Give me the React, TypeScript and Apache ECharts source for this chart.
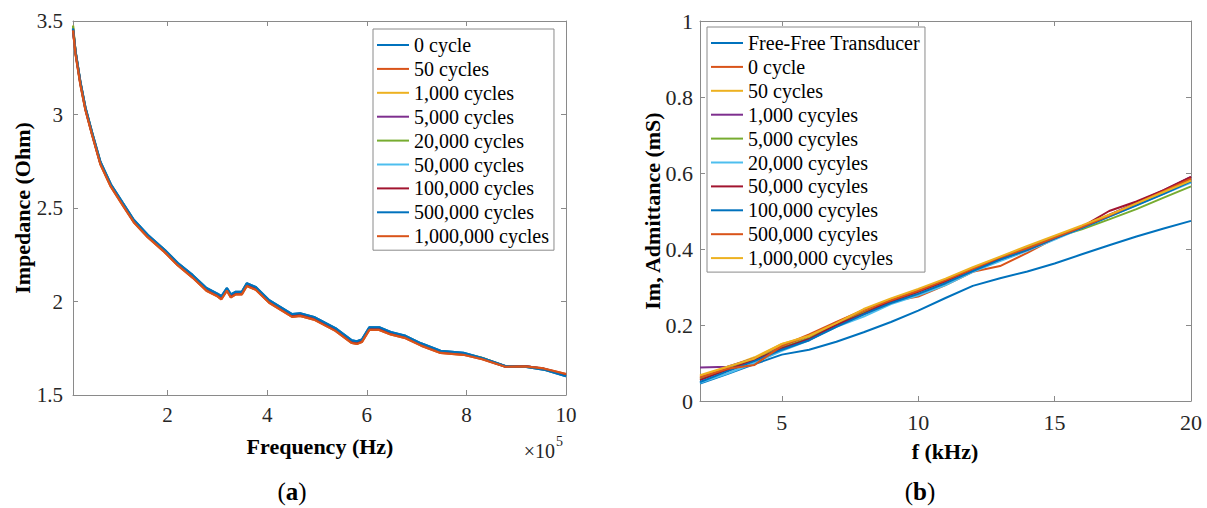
import React, { useEffect, useRef } from "react";
import * as echarts from "echarts";

const FONT = "Liberation Serif, serif";
const AXIS_GRAY = "#8a8a8a";
const TEXT = "#262626";
const MATLAB = ["#0072BD", "#D95319", "#EDB120", "#7E2F8E", "#77AC30", "#4DBEEE", "#A2142F"];

// ---------- (a) Impedance vs frequency ----------
const impFreq = [
  10000, 15000, 25000, 35000, 48000, 65000, 86000, 110000, 132000, 160000, 194000, 220000, 250000, 278000,
  300000, 308000, 319000, 327000, 337000, 349000, 359000, 377000, 404000, 450000, 466000, 494000, 537000,
  570000, 580000, 590000, 605000, 625000, 648000, 678000, 709000, 748000, 794000, 832000, 878000, 917000,
  955000, 1000000,
];
const impUpper = [
  3.46, 3.34, 3.172, 3.037, 2.907, 2.747, 2.627, 2.527, 2.437, 2.357, 2.277, 2.207, 2.142, 2.072, 2.042, 2.028,
  2.072, 2.038, 2.052, 2.052, 2.097, 2.077, 2.007, 1.932, 1.937, 1.917, 1.857, 1.792, 1.787, 1.797, 1.862, 1.862,
  1.837, 1.816, 1.776, 1.736, 1.725, 1.698, 1.655, 1.652, 1.636, 1.6,
];
const impMid = [
  3.455, 3.333, 3.165, 3.03, 2.9, 2.74, 2.62, 2.52, 2.43, 2.35, 2.27, 2.2, 2.135, 2.065, 2.035, 2.02, 2.065, 2.03,
  2.045, 2.045, 2.09, 2.07, 2.0, 1.925, 1.93, 1.91, 1.85, 1.785, 1.78, 1.79, 1.855, 1.855, 1.83, 1.81, 1.77, 1.73,
  1.72, 1.695, 1.653, 1.654, 1.64, 1.607,
];
const impMid2 = [
  3.475, 3.336, 3.168, 3.033, 2.903, 2.743, 2.623, 2.523, 2.433, 2.353, 2.273, 2.203, 2.138, 2.068, 2.038, 2.024,
  2.068, 2.034, 2.048, 2.048, 2.093, 2.073, 2.003, 1.928, 1.933, 1.913, 1.853, 1.788, 1.783, 1.793, 1.858, 1.858,
  1.833, 1.813, 1.773, 1.733, 1.722, 1.697, 1.654, 1.653, 1.638, 1.604,
];
const impLower = [
  3.45, 3.325, 3.158, 3.024, 2.894, 2.734, 2.614, 2.514, 2.424, 2.344, 2.264, 2.194, 2.128, 2.058, 2.028, 2.012,
  2.058, 2.022, 2.038, 2.038, 2.083, 2.063, 1.993, 1.918, 1.923, 1.903, 1.843, 1.778, 1.773, 1.783, 1.848, 1.848,
  1.824, 1.804, 1.764, 1.725, 1.715, 1.691, 1.651, 1.653, 1.642, 1.612,
];
const impNames = [
  "0 cycle", "50 cycles", "1,000 cycles", "5,000 cycles", "20,000 cycles", "50,000 cycles",
  "100,000 cycles", "500,000 cycles", "1,000,000 cycles",
];
const impValues = [impUpper, impLower, impMid2, impMid, impMid2, impMid, impMid, impUpper, impLower];
const impTicks = [200000, 400000, 600000, 800000, 1000000];

// ---------- (b) Admittance vs frequency ----------
const admFreq = [2, 3, 4, 5, 6, 7, 8, 9, 10, 11, 12, 13, 14, 15, 16, 17, 18, 19, 20];
const admFreeFree = [0.046, 0.071, 0.097, 0.122, 0.135, 0.156, 0.181, 0.208, 0.238, 0.271, 0.303, 0.323, 0.341, 0.362, 0.386, 0.41, 0.433, 0.454, 0.474];
const adm0 = [0.06, 0.085, 0.11, 0.145, 0.17, 0.205, 0.235, 0.262, 0.275, 0.305, 0.34, 0.355, 0.39, 0.428, 0.455, 0.49, 0.52, 0.552, 0.585];
const adm50 = [0.065, 0.088, 0.115, 0.15, 0.17, 0.207, 0.24, 0.268, 0.292, 0.32, 0.35, 0.378, 0.405, 0.432, 0.46, 0.488, 0.518, 0.548, 0.58];
const adm1k = [0.088, 0.09, 0.112, 0.14, 0.16, 0.198, 0.228, 0.26, 0.287, 0.315, 0.345, 0.375, 0.4, 0.43, 0.457, 0.49, 0.522, 0.555, 0.59];
const adm5k = [0.058, 0.083, 0.11, 0.14, 0.165, 0.2, 0.232, 0.258, 0.282, 0.31, 0.342, 0.375, 0.405, 0.43, 0.452, 0.478, 0.505, 0.535, 0.565];
const adm20k = [0.048, 0.072, 0.1, 0.132, 0.16, 0.195, 0.222, 0.255, 0.278, 0.305, 0.34, 0.368, 0.395, 0.425, 0.455, 0.485, 0.515, 0.545, 0.575];
const adm50k = [0.055, 0.082, 0.108, 0.138, 0.163, 0.2, 0.23, 0.262, 0.288, 0.315, 0.348, 0.373, 0.398, 0.428, 0.458, 0.5, 0.525, 0.555, 0.59];
const adm100k = [0.05, 0.078, 0.105, 0.135, 0.16, 0.195, 0.228, 0.258, 0.282, 0.31, 0.342, 0.372, 0.398, 0.428, 0.455, 0.485, 0.515, 0.545, 0.578];
const adm500k = [0.062, 0.085, 0.095, 0.145, 0.175, 0.208, 0.24, 0.265, 0.29, 0.318, 0.348, 0.378, 0.402, 0.43, 0.458, 0.488, 0.52, 0.552, 0.585];
const adm1M = [0.068, 0.09, 0.112, 0.15, 0.172, 0.205, 0.242, 0.27, 0.295, 0.322, 0.352, 0.38, 0.408, 0.435, 0.462, 0.49, 0.52, 0.55, 0.58];
const admNames = [
  "Free-Free Transducer", "0 cycle", "50 cycles", "1,000 cycyles", "5,000 cycyles", "20,000 cycyles",
  "50,000 cycyles", "100,000 cycyles", "500,000 cycyles", "1,000,000 cycyles",
];
const admValues = [admFreeFree, adm0, adm50, adm1k, adm5k, adm20k, adm50k, adm100k, adm500k, adm1M];
const admTicks = [5, 10, 15, 20];

function axisLine() {
  return { show: true, onZero: false, lineStyle: { color: AXIS_GRAY, width: 1 } };
}

function legendCfg(left: number, top: number, names: string[]) {
  return {
    orient: "vertical",
    left,
    top,
    data: names,
    selectedMode: false,
    icon: "rect",
    itemWidth: 32,
    itemHeight: 2,
    itemGap: 1.9,
    padding: [5, 5, 3, 4],
    borderColor: AXIS_GRAY,
    borderWidth: 1,
    backgroundColor: "#fff",
    textStyle: { fontFamily: FONT, fontSize: 20, color: "#000", lineHeight: 22 },
  };
}

function title(x: number, y: number, text: string, size: number, rotate = false) {
  return {
    type: "text",
    x,
    y,
    rotation: rotate ? Math.PI / 2 : 0,
    style: {
      text,
      fontFamily: FONT,
      fontSize: size,
      fontWeight: "bold",
      fill: "#000",
      align: "center",
      verticalAlign: "middle",
    },
  };
}

function caption(x: number, y: number, letter: string) {
  return {
    type: "text",
    x,
    y,
    style: {
      text: "{n|(}{b|" + letter + "}{n|)}",
      align: "center",
      verticalAlign: "middle",
      rich: {
        n: { fontFamily: FONT, fontSize: 25, fill: "#000", fontWeight: "normal" },
        b: { fontFamily: FONT, fontSize: 25, fill: "#000", fontWeight: "bold" },
      },
    },
  };
}

function impedanceOption(): any {
  const xBase = { type: "value", min: 10000, max: 1000000, splitLine: { show: false }, axisLine: axisLine() };
  const yBase = { type: "value", min: 1.5, max: 3.5, interval: 0.5, splitLine: { show: false }, axisLine: axisLine() };
  const tick = { show: true, inside: true, length: 5, lineStyle: { color: AXIS_GRAY }, customValues: impTicks };
  const ytick = { show: true, inside: true, length: 5, lineStyle: { color: AXIS_GRAY } };
  return {
    animation: false,
    backgroundColor: "#fff",
    grid: { left: 73, right: 34, top: 21, bottom: 113 },
    xAxis: [
      {
        ...xBase,
        position: "bottom",
        axisTick: tick,
        axisLabel: {
          customValues: impTicks,
          formatter: (v: number) => String(Math.round(v / 100000)),
          fontFamily: FONT,
          fontSize: 21,
          color: TEXT,
          margin: 9,
        },
      },
      { ...xBase, position: "top", axisTick: tick, axisLabel: { show: false } },
    ],
    yAxis: [
      {
        ...yBase,
        position: "left",
        axisTick: ytick,
        axisLabel: { fontFamily: FONT, fontSize: 21, color: TEXT, margin: 10 },
      },
      { ...yBase, position: "right", axisTick: ytick, axisLabel: { show: false } },
    ],
    legend: legendCfg(373, 29, impNames),
    series: impNames.map((name, i) => ({
      name,
      type: "line",
      xAxisIndex: 0,
      yAxisIndex: 0,
      symbol: "none",
      showSymbol: false,
      color: MATLAB[i % MATLAB.length],
      lineStyle: { width: 2.2, color: MATLAB[i % MATLAB.length] },
      data: impFreq.map((f, k) => [f, impValues[i][k]]),
    })),
    graphic: [
      title(22, 208, "Impedance (Ohm)", 22, true),
      title(320, 446, "Frequency (Hz)", 22),
      {
        type: "text",
        x: 555,
        y: 451,
        style: { text: "×10", fontFamily: FONT, fontSize: 20, fill: TEXT, align: "right", verticalAlign: "middle" },
      },
      {
        type: "text",
        x: 556,
        y: 441,
        style: { text: "5", fontFamily: FONT, fontSize: 14, fill: TEXT, align: "left", verticalAlign: "middle" },
      },
      caption(292, 491, "a"),
    ],
  };
}

function admittanceOption(): any {
  const xBase = { type: "value", min: 2, max: 20, splitLine: { show: false }, axisLine: axisLine() };
  const yBase = { type: "value", min: 0, max: 1, interval: 0.2, splitLine: { show: false }, axisLine: axisLine() };
  const tick = { show: true, inside: true, length: 5, lineStyle: { color: AXIS_GRAY }, customValues: admTicks };
  const ytick = { show: true, inside: true, length: 5, lineStyle: { color: AXIS_GRAY } };
  return {
    animation: false,
    backgroundColor: "#fff",
    grid: { left: 100, right: 16, top: 21, bottom: 107 },
    xAxis: [
      {
        ...xBase,
        position: "bottom",
        axisTick: tick,
        axisLabel: { customValues: admTicks, fontFamily: FONT, fontSize: 22, color: TEXT, margin: 10 },
      },
      { ...xBase, position: "top", axisTick: tick, axisLabel: { show: false } },
    ],
    yAxis: [
      {
        ...yBase,
        position: "left",
        axisTick: ytick,
        axisLabel: { fontFamily: FONT, fontSize: 22, color: TEXT, margin: 7 },
      },
      { ...yBase, position: "right", axisTick: ytick, axisLabel: { show: false } },
    ],
    legend: legendCfg(107, 27, admNames),
    series: admNames.map((name, i) => ({
      name,
      type: "line",
      xAxisIndex: 0,
      yAxisIndex: 0,
      symbol: "none",
      showSymbol: false,
      color: MATLAB[i % MATLAB.length],
      lineStyle: { width: 2, color: MATLAB[i % MATLAB.length] },
      data: admFreq.map((f, k) => [f, admValues[i][k]]),
    })),
    graphic: [
      title(52, 211, "Im, Admittance (mS)", 22, true),
      title(345, 451, "f (kHz)", 22),
      caption(320, 491, "b"),
    ],
  };
}

function ChartBox(props: { width: number; height: number; left: number; make: () => any }) {
  const ref = useRef<HTMLDivElement>(null);
  useEffect(() => {
    if (!ref.current) return;
    const chart = echarts.init(ref.current, null, { renderer: "svg" });
    chart.setOption(props.make());
    return () => chart.dispose();
  }, []);
  return (
    <div
      ref={ref}
      style={{ position: "absolute", left: props.left, top: 0, width: props.width, height: props.height }}
    />
  );
}

export default function App() {
  return (
    <div style={{ position: "absolute", left: 0, top: 0, width: 1207, height: 508, background: "#fff" }}>
      <ChartBox left={0} width={600} height={508} make={impedanceOption} />
      <ChartBox left={600} width={607} height={508} make={admittanceOption} />
    </div>
  );
}
